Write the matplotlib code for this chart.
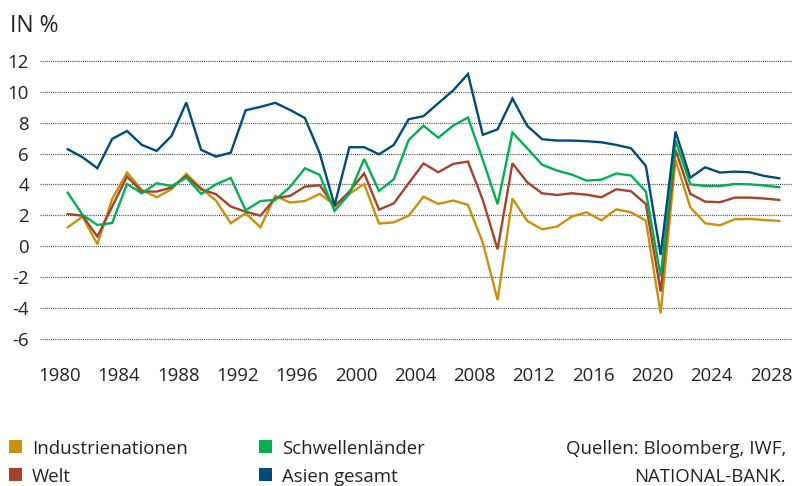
import matplotlib
matplotlib.use("Agg")
import matplotlib.pyplot as plt
from matplotlib.patches import Rectangle
import numpy as np

years = list(range(1980, 2029))

industrienationen = [1.23, 1.92, 0.13, 3.06, 4.77, 3.65, 3.17, 3.69, 4.68, 3.75,
                     2.96, 1.49, 2.14, 1.23, 3.26, 2.83, 2.93, 3.39, 2.68, 3.40,
                     4.03, 1.47, 1.55, 1.98, 3.21, 2.74, 2.96, 2.68, 0.24, -3.47,
                     3.09, 1.64, 1.10, 1.27, 1.92, 2.20, 1.68, 2.39, 2.20, 1.66,
                     -4.34, 5.59, 2.52, 1.49, 1.36, 1.75, 1.77, 1.70, 1.64]
welt = [2.09, 1.98, 0.63, 2.57, 4.51, 3.54, 3.54, 3.80, 4.55, 3.69,
        3.37, 2.57, 2.24, 1.98, 3.11, 3.26, 3.86, 3.95, 2.57, 3.55,
        4.72, 2.37, 2.78, 4.08, 5.36, 4.79, 5.33, 5.48, 3.00, -0.19,
        5.37, 4.14, 3.43, 3.32, 3.43, 3.34, 3.17, 3.69, 3.56, 2.74,
        -2.93, 6.24, 3.39, 2.89, 2.85, 3.15, 3.15, 3.09, 3.00]
schwellenlaender = [3.47, 2.03, 1.38, 1.51, 4.03, 3.43, 4.08, 3.90, 4.44, 3.39,
                    4.01, 4.42, 2.33, 2.93, 3.00, 3.84, 5.05, 4.62, 2.29, 3.40,
                    5.65, 3.58, 4.34, 6.88, 7.80, 7.03, 7.81, 8.33, 5.60, 2.72,
                    7.36, 6.34, 5.28, 4.90, 4.64, 4.25, 4.31, 4.71, 4.58, 3.54,
                    -1.96, 6.84, 4.01, 3.90, 3.90, 4.03, 4.01, 3.93, 3.82]
asien = [6.28, 5.76, 5.05, 6.95, 7.46, 6.56, 6.17, 7.14, 9.30, 6.24,
         5.80, 6.06, 8.80, 9.02, 9.28, 8.82, 8.30, 6.02, 2.65, 6.41,
         6.41, 5.95, 6.56, 8.22, 8.42, 9.26, 10.08, 11.15, 7.21, 7.57,
         9.56, 7.79, 6.93, 6.84, 6.84, 6.80, 6.73, 6.56, 6.34, 5.20,
         -0.56, 7.42, 4.44, 5.11, 4.77, 4.83, 4.79, 4.55, 4.40]

series_names = ["Industrienationen", "Welt", "Schwellenländer", "Asien gesamt"]
series_values = [industrienationen, welt, schwellenlaender, asien]
colors = ["#C8900E", "#A3432E", "#00B050", "#004B78"]

xtick_years = list(range(1980, 2029, 4))
ytick_values = list(range(-6, 13, 2))
title = "IN %"
source_lines = ["Quellen: Bloomberg, IWF,", "NATIONAL-BANK."]

W, H = 792, 486
plt.rcParams['font.family'] = ['Open Sans', 'DejaVu Sans']
fig = plt.figure(figsize=(W / 100, H / 100), dpi=100)

ax_left, ax_right, ax_top, ax_bottom = 40, 792, 50, 350
ax = fig.add_axes([ax_left / W, 1 - ax_bottom / H, (ax_right - ax_left) / W, (ax_bottom - ax_top) / H])

for vals, c in zip(series_values, colors):
    ax.plot(years, vals, color=c, lw=1.7, solid_joinstyle='miter', zorder=3)

ax.set_xlim(1978.13, 2028.86)
ax.set_ylim(-6.71, 12.7)
ax.set_yticks(ytick_values)
ax.set_yticklabels([str(v) for v in ytick_values])
ax.set_xticks([y - 0.55 for y in xtick_years])
ax.set_xticklabels([str(y) for y in xtick_years])
ax.tick_params(axis='both', length=0, labelsize=13.4, labelcolor='#222222')
ax.tick_params(axis='x', pad=12)
ax.tick_params(axis='y', pad=8)
for s in ax.spines.values():
    s.set_visible(False)
for v in ytick_values:
    ax.axhline(v, color='#444444', lw=0.9, linestyle=(0, (0.8, 0.9)), zorder=1)

fig.text(10 / W, 1 - 32 / H, title, fontsize=16.5, color='#222222', ha='left', va='baseline')

# Legend
col_x = [9, 259]
row_base = [453.7, 482.3]
for i, (name, c) in enumerate(zip(series_names, colors)):
    col = i // 2
    row = i % 2
    sx = col_x[col]
    sy = row_base[row] - 14
    fig.add_artist(Rectangle((sx / W, 1 - (sy + 13) / H), 12.5 / W, 13 / H,
                             transform=fig.transFigure, color=c, lw=0))
    fig.text((sx + 23) / W, 1 - row_base[row] / H, name, fontsize=13.4,
             color='#222222', ha='left', va='baseline')

for i, line in enumerate(source_lines):
    fig.text(786 / W, 1 - row_base[i] / H, line, fontsize=13.4,
             color='#222222', ha='right', va='baseline')

fig.savefig("out.png", dpi=100)
